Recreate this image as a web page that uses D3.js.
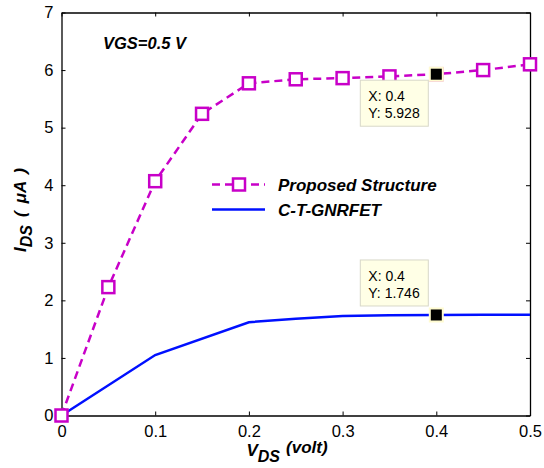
<!DOCTYPE html>
<meta charset="utf-8">
<script src="https://cdn.jsdelivr.net/npm/d3@7"></script>
<style>
body { margin: 0; background: #fff; }
text { font-family: "Liberation Sans", Arial, sans-serif; fill: #000; }
.tick text { font-size: 16.5px; font-family: "Liberation Sans", Arial, sans-serif; }
.bi { font-weight: bold; font-style: italic; }
</style>
<body>
<script>

// data
var vds = [0, 0.05, 0.1, 0.15, 0.2, 0.25, 0.3, 0.35, 0.4, 0.45, 0.5];
var proposed = [0, 2.23, 4.07, 5.24, 5.77, 5.84, 5.86, 5.89, 5.928, 6.0, 6.1];
var vdsCt = [0, 0.1, 0.2, 0.25, 0.3, 0.35, 0.4, 0.45, 0.5];
var ctGnrfet = [0, 1.05, 1.62, 1.68, 1.73, 1.74, 1.746, 1.748, 1.75];
var xTicks = [0, 0.1, 0.2, 0.3, 0.4, 0.5];
var yTicks = [0, 1, 2, 3, 4, 5, 6, 7];
var tips = [{x: 0.4, y: 5.928}, {x: 0.4, y: 1.746}];
var legendNames = ["Proposed Structure", "C-T-GNRFET"];

var width = 544, height = 468;
var mLeft = 61.5, mRight = 530, mTop = 12.5, mBottom = 415.5;
var magenta = "#c800c8", blue = "#0010ff";

var x = d3.scaleLinear().domain([0, 0.5]).range([mLeft, mRight]);
var y = d3.scaleLinear().domain([0, 7]).range([mBottom, mTop]);
var plain = d3.format("");

var svg = d3.select("body").append("svg")
    .attr("width", width)
    .attr("height", height);

// axes, ticks pointing inward like matlab
svg.append("g")
    .attr("transform", "translate(0," + mBottom + ")")
    .call(d3.axisBottom(x).tickValues(xTicks).tickSizeInner(-4).tickSizeOuter(0).tickPadding(10)
        .tickFormat(plain));
svg.append("g")
    .attr("transform", "translate(0," + mTop + ")")
    .call(d3.axisTop(x).tickValues(xTicks).tickSizeInner(-4).tickSizeOuter(0).tickFormat(""));
svg.append("g")
    .attr("transform", "translate(" + mLeft + ",0)")
    .call(d3.axisLeft(y).tickValues(yTicks).tickSizeInner(-4).tickSizeOuter(0).tickPadding(8)
        .tickFormat(plain));
svg.append("g")
    .attr("transform", "translate(" + mRight + ",0)")
    .call(d3.axisRight(y).tickValues(yTicks).tickSizeInner(-4).tickSizeOuter(0).tickFormat(""));
svg.selectAll(".domain").attr("stroke", "#000").attr("stroke-width", 1.3);
svg.selectAll(".tick line").attr("stroke", "#000");

var line = d3.line()
    .x(function(d) { return x(d[0]); })
    .y(function(d) { return y(d[1]); });

svg.append("path")
    .datum(d3.zip(vdsCt, ctGnrfet))
    .attr("d", line)
    .attr("fill", "none")
    .attr("stroke", blue)
    .attr("stroke-width", 2.5);

svg.append("path")
    .datum(d3.zip(vds, proposed))
    .attr("d", line)
    .attr("fill", "none")
    .attr("stroke", magenta)
    .attr("stroke-width", 2.5)
    .attr("stroke-dasharray", "8,5");

svg.selectAll("rect.mark")
    .data(d3.zip(vds, proposed))
    .enter().append("rect")
    .attr("class", "mark")
    .attr("x", function(d) { return x(d[0]) - 6; })
    .attr("y", function(d) { return y(d[1]) - 6; })
    .attr("width", 12)
    .attr("height", 12)
    .attr("fill", "#fff")
    .attr("stroke", magenta)
    .attr("stroke-width", 2.5);

// data tips
tips.forEach(function(t) {
  svg.append("rect")
      .attr("x", x(t.x) - 6.5)
      .attr("y", y(t.y) - 6.5)
      .attr("width", 13)
      .attr("height", 13)
      .attr("fill", "#000")
      .attr("stroke", "#fffbd0")
      .attr("stroke-width", 2);
  var bx = x(t.x) - 76, by = y(t.y) + 6;
  if (t.y < 3) by = y(t.y) - 55;
  svg.append("rect")
      .attr("x", bx)
      .attr("y", by)
      .attr("width", 68)
      .attr("height", 46)
      .attr("fill", "#ffffe6")
      .attr("stroke", "#d8d8c8")
      .attr("stroke-width", 1);
  svg.append("text")
      .attr("x", bx + 8)
      .attr("y", by + 21)
      .style("font-size", "14px")
      .text("X: " + t.x);
  svg.append("text")
      .attr("x", bx + 8)
      .attr("y", by + 38)
      .style("font-size", "14px")
      .text("Y: " + t.y);
});

// legend
var lg = svg.append("g");
lg.append("line")
    .attr("x1", 212).attr("x2", 265).attr("y1", 184.5).attr("y2", 184.5)
    .attr("stroke", magenta).attr("stroke-width", 2.5).attr("stroke-dasharray", "8,5");
lg.append("rect")
    .attr("x", 233).attr("y", 178.5).attr("width", 12).attr("height", 12)
    .attr("fill", "#fff").attr("stroke", magenta).attr("stroke-width", 2.5);
lg.append("line")
    .attr("x1", 212).attr("x2", 265).attr("y1", 209.5).attr("y2", 209.5)
    .attr("stroke", blue).attr("stroke-width", 2.5);
lg.selectAll("text")
    .data(legendNames)
    .enter().append("text")
    .attr("class", "bi")
    .attr("x", 278)
    .attr("y", function(d, i) { return 191 + i * 25; })
    .style("font-size", "17px")
    .text(function(d) { return d; });

svg.append("text")
    .attr("class", "bi")
    .attr("x", 103)
    .attr("y", 49)
    .style("font-size", "16.5px")
    .text("VGS=0.5 V");

// axis labels
var xl = svg.append("text")
    .attr("class", "bi")
    .attr("x", 287)
    .attr("y", 456)
    .attr("text-anchor", "middle")
    .style("font-size", "17px");
xl.append("tspan").text("V");
xl.append("tspan").attr("dy", 6).style("font-size", "16px").text("DS");
xl.append("tspan").attr("dy", -9).attr("dx", 6).style("font-size", "17px").text("(volt)");

var yl = svg.append("text")
    .attr("class", "bi")
    .attr("transform", "translate(25.5,252) rotate(-90)")
    .style("font-size", "17px");
yl.append("tspan").text("I");
yl.append("tspan").attr("dy", 6).style("font-size", "16px").text("DS");
yl.append("tspan").attr("dy", -6).attr("dx", 8).text("(");
yl.append("tspan").attr("dx", 8).text("\u03bcA");
yl.append("tspan").attr("dx", 7).text(")");

</script>
</body>
</html>
